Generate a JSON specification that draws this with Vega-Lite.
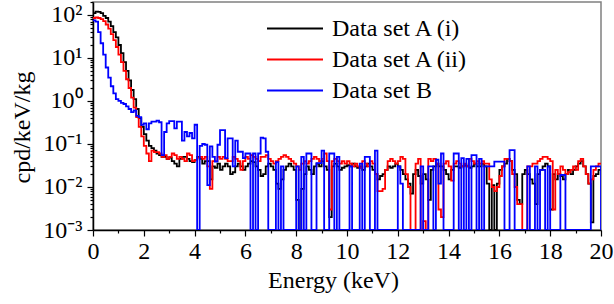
{
"$schema": "https://vega.github.io/schema/vega-lite/v6.json",
"width": 508, "height": 228,
"autosize": "none",
"padding": {"left": 93, "top": 2, "right": 13, "bottom": 74},
"background": "white",
"data": {"values": [
{"e":0,"i":110,"ii":85,"B":75},{"e":0.1,"i":120,"ii":88,"B":70},{"e":0.2,"i":118,"ii":85,"B":40},{"e":0.3,"i":110,"ii":80,"B":22},{"e":0.4,"i":95,"ii":72,"B":12},
{"e":0.5,"i":85,"ii":60,"B":6},{"e":0.6,"i":70,"ii":48,"B":3.5},{"e":0.7,"i":55,"ii":36,"B":2.2},{"e":0.8,"i":40,"ii":26,"B":1.5},{"e":0.9,"i":30,"ii":18,"B":1.1},
{"e":1,"i":20,"ii":12,"B":1.0},{"e":1.1,"i":13,"ii":8,"B":0.9},{"e":1.2,"i":8,"ii":5,"B":0.85},{"e":1.3,"i":5,"ii":3.2,"B":0.75},{"e":1.4,"i":3,"ii":2,"B":0.65},
{"e":1.5,"i":1.8,"ii":1.2,"B":0.55},{"e":1.6,"i":1.1,"ii":0.7,"B":0.6},{"e":1.7,"i":0.65,"ii":0.42,"B":0.45},{"e":1.8,"i":0.4,"ii":0.25,"B":0.42},{"e":1.9,"i":0.25,"ii":0.15,"B":0.28},
{"e":2,"i":0.17,"ii":0.09,"B":0.3},{"e":2.1,"i":0.12,"ii":0.06,"B":0.22},{"e":2.2,"i":0.09,"ii":0.04,"B":0.3},{"e":2.3,"i":0.08,"ii":0.07,"B":0.33},{"e":2.4,"i":0.07,"ii":0.065,"B":0.33},
{"e":2.5,"i":0.06,"ii":0.065,"B":0.35},{"e":2.6,"i":0.055,"ii":0.06,"B":0.32},{"e":2.7,"i":0.05,"ii":0.05,"B":0.055},{"e":2.8,"i":0.05,"ii":0.055,"B":0.19},{"e":2.9,"i":0.045,"ii":0.045,"B":0.3},
{"e":3,"i":0.048,"ii":0.05,"B":0.34},{"e":3.1,"i":0.04,"ii":0.06,"B":0.34},{"e":3.2,"i":0.035,"ii":0.055,"B":0.23},{"e":3.3,"i":0.03,"ii":0.045,"B":0.33},{"e":3.4,"i":0.045,"ii":0.05,"B":0.33},
{"e":3.5,"i":0.05,"ii":0.045,"B":0.12},{"e":3.6,"i":0.05,"ii":0.04,"B":0.19},{"e":3.7,"i":0.045,"ii":0.06,"B":0.15},{"e":3.8,"i":0.04,"ii":0.055,"B":0.18},{"e":3.9,"i":0.038,"ii":0.04,"B":0.135},
{"e":4,"i":0.042,"ii":0.042,"B":0.28},{"e":4.1,"i":0.05,"ii":0.048,"B":0.001},{"e":4.2,"i":0.045,"ii":0.05,"B":0.09},{"e":4.3,"i":0.035,"ii":0.045,"B":0.1},{"e":4.4,"i":0.04,"ii":0.05,"B":0.096},
{"e":4.5,"i":0.04,"ii":0.03,"B":0.011},{"e":4.6,"i":0.015,"ii":0.009,"B":0.088},{"e":4.7,"i":0.03,"ii":0.04,"B":0.05},{"e":4.8,"i":0.028,"ii":0.04,"B":0.039},{"e":4.9,"i":0.035,"ii":0.05,"B":0.096},
{"e":5,"i":0.025,"ii":0.045,"B":0.21},{"e":5.1,"i":0.03,"ii":0.05,"B":0.21},{"e":5.2,"i":0.035,"ii":0.045,"B":0.047},{"e":5.3,"i":0.03,"ii":0.04,"B":0.135},{"e":5.4,"i":0.02,"ii":0.04,"B":0.135},
{"e":5.5,"i":0.022,"ii":0.05,"B":0.03},{"e":5.6,"i":0.03,"ii":0.045,"B":0.12},{"e":5.7,"i":0.035,"ii":0.04,"B":0.066},{"e":5.8,"i":0.03,"ii":0.025,"B":0.066},{"e":5.9,"i":0.025,"ii":0.04,"B":0.047},
{"e":6,"i":0.03,"ii":0.05,"B":0.06},{"e":6.1,"i":0.035,"ii":0.045,"B":0.06},{"e":6.2,"i":0.04,"ii":0.055,"B":0.001},{"e":6.3,"i":0.038,"ii":0.05,"B":0.06},{"e":6.4,"i":0.03,"ii":0.045,"B":0.001},
{"e":6.5,"i":0.025,"ii":0.04,"B":0.06},{"e":6.6,"i":0.018,"ii":0.05,"B":0.14},{"e":6.7,"i":0.02,"ii":0.05,"B":0.135},{"e":6.8,"i":0.03,"ii":0.055,"B":0.066},{"e":6.9,"i":0.035,"ii":0.045,"B":0.001},
{"e":7,"i":0.03,"ii":0.04,"B":0.001},{"e":7.1,"i":0.025,"ii":0.035,"B":0.001},{"e":7.2,"i":0.012,"ii":0.04,"B":0.038},{"e":7.3,"i":0.009,"ii":0.045,"B":0.001},{"e":7.4,"i":0.015,"ii":0.05,"B":0.03},
{"e":7.5,"i":0.025,"ii":0.055,"B":0.001},{"e":7.6,"i":0.03,"ii":0.05,"B":0.001},{"e":7.7,"i":0.035,"ii":0.045,"B":0.001},{"e":7.8,"i":0.03,"ii":0.04,"B":0.001},{"e":7.9,"i":0.025,"ii":0.035,"B":0.001},
{"e":8,"i":0.005,"ii":0.03,"B":0.03},{"e":8.1,"i":0.001,"ii":0.025,"B":0.001},{"e":8.2,"i":0.009,"ii":0.035,"B":0.05},{"e":8.3,"i":0.02,"ii":0.04,"B":0.001},{"e":8.4,"i":0.03,"ii":0.035,"B":0.06},
{"e":8.5,"i":0.025,"ii":0.04,"B":0.06},{"e":8.6,"i":0.02,"ii":0.045,"B":0.001},{"e":8.7,"i":0.03,"ii":0.05,"B":0.001},{"e":8.8,"i":0.035,"ii":0.045,"B":0.036},{"e":8.9,"i":0.03,"ii":0.04,"B":0.036},
{"e":9,"i":0.04,"ii":0.045,"B":0.07},{"e":9.1,"i":0.03,"ii":0.06,"B":0.001},{"e":9.2,"i":0.025,"ii":0.04,"B":0.001},{"e":9.3,"i":0.002,"ii":0.003,"B":0.06},{"e":9.4,"i":0.03,"ii":0.04,"B":0.06},
{"e":9.5,"i":0.035,"ii":0.045,"B":0.001},{"e":9.6,"i":0.03,"ii":0.04,"B":0.05},{"e":9.7,"i":0.025,"ii":0.035,"B":0.001},{"e":9.8,"i":0.028,"ii":0.04,"B":0.001},{"e":9.9,"i":0.03,"ii":0.035,"B":0.001},
{"e":10,"i":0.032,"ii":0.04,"B":0.001},{"e":10.1,"i":0.03,"ii":0.035,"B":0.03},{"e":10.2,"i":0.035,"ii":0.03,"B":0.001},{"e":10.3,"i":0.03,"ii":0.035,"B":0.001},{"e":10.4,"i":0.028,"ii":0.03,"B":0.001},
{"e":10.5,"i":0.03,"ii":0.028,"B":0.035},{"e":10.6,"i":0.025,"ii":0.04,"B":0.001},{"e":10.7,"i":0.03,"ii":0.035,"B":0.05},{"e":10.8,"i":0.035,"ii":0.03,"B":0.05},{"e":10.9,"i":0.03,"ii":0.04,"B":0.001},
{"e":11,"i":0.025,"ii":0.035,"B":0.001},{"e":11.1,"i":0.02,"ii":0.02,"B":0.07},{"e":11.2,"i":0.015,"ii":0.008,"B":0.001},{"e":11.3,"i":0.018,"ii":0.008,"B":0.001},{"e":11.4,"i":0.02,"ii":0.009,"B":0.001},
{"e":11.5,"i":0.025,"ii":0.025,"B":0.001},{"e":11.6,"i":0.03,"ii":0.04,"B":0.001},{"e":11.7,"i":0.028,"ii":0.045,"B":0.001},{"e":11.8,"i":0.03,"ii":0.04,"B":0.001},{"e":11.9,"i":0.035,"ii":0.035,"B":0.001},
{"e":12,"i":0.03,"ii":0.04,"B":0.03},{"e":12.1,"i":0.025,"ii":0.05,"B":0.012},{"e":12.2,"i":0.02,"ii":0.045,"B":0.001},{"e":12.3,"i":0.015,"ii":0.02,"B":0.001},{"e":12.4,"i":0.012,"ii":0.01,"B":0.001},
{"e":12.5,"i":0.007,"ii":0.001,"B":0.001},{"e":12.6,"i":0.02,"ii":0.001,"B":0.001},{"e":12.7,"i":0.025,"ii":0.035,"B":0.001},{"e":12.8,"i":0.018,"ii":0.045,"B":0.001},{"e":12.9,"i":0.012,"ii":0.001,"B":0.03},
{"e":13,"i":0.02,"ii":0.0016,"B":0.001},{"e":13.1,"i":0.015,"ii":0.001,"B":0.001},{"e":13.2,"i":0.005,"ii":0.045,"B":0.03},{"e":13.3,"i":0.025,"ii":0.04,"B":0.03},{"e":13.4,"i":0.03,"ii":0.045,"B":0.001},
{"e":13.5,"i":0.035,"ii":0.035,"B":0.043},{"e":13.6,"i":0.03,"ii":0.003,"B":0.012},{"e":13.7,"i":0.03,"ii":0.002,"B":0.06},{"e":13.8,"i":0.025,"ii":0.035,"B":0.001},{"e":13.9,"i":0.02,"ii":0.04,"B":0.001},
{"e":14,"i":0.015,"ii":0.03,"B":0.001},{"e":14.1,"i":0.025,"ii":0.014,"B":0.001},{"e":14.2,"i":0.03,"ii":0.035,"B":0.06},{"e":14.3,"i":0.03,"ii":0.04,"B":0.06},{"e":14.4,"i":0.028,"ii":0.035,"B":0.001},
{"e":14.5,"i":0.03,"ii":0.03,"B":0.047},{"e":14.6,"i":0.032,"ii":0.035,"B":0.001},{"e":14.7,"i":0.03,"ii":0.03,"B":0.045},{"e":14.8,"i":0.028,"ii":0.045,"B":0.001},{"e":14.9,"i":0.03,"ii":0.04,"B":0.055},
{"e":15,"i":0.035,"ii":0.035,"B":0.055},{"e":15.1,"i":0.03,"ii":0.04,"B":0.001},{"e":15.2,"i":0.03,"ii":0.035,"B":0.045},{"e":15.3,"i":0.035,"ii":0.04,"B":0.001},{"e":15.4,"i":0.03,"ii":0.035,"B":0.03},
{"e":15.5,"i":0.012,"ii":0.035,"B":0.03},{"e":15.6,"i":0.001,"ii":0.015,"B":0.03},{"e":15.7,"i":0.011,"ii":0.01,"B":0.03},{"e":15.8,"i":0.001,"ii":0.008,"B":0.039},{"e":15.9,"i":0.012,"ii":0.01,"B":0.039},
{"e":16,"i":0.025,"ii":0.018,"B":0.039},{"e":16.1,"i":0.03,"ii":0.03,"B":0.039},{"e":16.2,"i":0.035,"ii":0.045,"B":0.001},{"e":16.3,"i":0.045,"ii":0.045,"B":0.001},{"e":16.4,"i":0.04,"ii":0.04,"B":0.072},
{"e":16.5,"i":0.025,"ii":0.02,"B":0.072},{"e":16.6,"i":0.02,"ii":0.01,"B":0.001},{"e":16.7,"i":0.005,"ii":0.004,"B":0.001},{"e":16.8,"i":0.004,"ii":0.004,"B":0.001},{"e":16.9,"i":0.02,"ii":0.001,"B":0.001},
{"e":17,"i":0.025,"ii":0.001,"B":0.001},{"e":17.1,"i":0.02,"ii":0.03,"B":0.03},{"e":17.2,"i":0.015,"ii":0.03,"B":0.001},{"e":17.3,"i":0.012,"ii":0.035,"B":0.001},{"e":17.4,"i":0.004,"ii":0.035,"B":0.03},
{"e":17.5,"i":0.02,"ii":0.04,"B":0.001},{"e":17.6,"i":0.025,"ii":0.045,"B":0.025},{"e":17.7,"i":0.03,"ii":0.05,"B":0.025},{"e":17.8,"i":0.035,"ii":0.05,"B":0.001},{"e":17.9,"i":0.03,"ii":0.045,"B":0.03},
{"e":18,"i":0.003,"ii":0.04,"B":0.001},{"e":18.1,"i":0.02,"ii":0.003,"B":0.001},{"e":18.2,"i":0.015,"ii":0.025,"B":0.001},{"e":18.3,"i":0.02,"ii":0.02,"B":0.001},{"e":18.4,"i":0.018,"ii":0.03,"B":0.019},
{"e":18.5,"i":0.015,"ii":0.025,"B":0.019},{"e":18.6,"i":0.02,"ii":0.02,"B":0.001},{"e":18.7,"i":0.025,"ii":0.022,"B":0.001},{"e":18.8,"i":0.02,"ii":0.025,"B":0.001},{"e":18.9,"i":0.025,"ii":0.03,"B":0.001},
{"e":19,"i":0.03,"ii":0.025,"B":0.001},{"e":19.1,"i":0.035,"ii":0.04,"B":0.001},{"e":19.2,"i":0.04,"ii":0.045,"B":0.001},{"e":19.3,"i":0.03,"ii":0.03,"B":0.001},{"e":19.4,"i":0.02,"ii":0.02,"B":0.001},
{"e":19.5,"i":0.012,"ii":0.012,"B":0.001},{"e":19.6,"i":0.0015,"ii":0.015,"B":0.03},{"e":19.7,"i":0.018,"ii":0.025,"B":0.03},{"e":19.8,"i":0.02,"ii":0.03,"B":0.03},{"e":19.9,"i":0.025,"ii":0.035,"B":0.03},
{"e":20,"i":0.025,"ii":0.035,"B":0.001}
]},
"transform": [{"fold": ["i", "ii", "B"], "as": ["s", "v"]}],
"mark": {"type": "line", "interpolate": "step-after", "strokeWidth": 1.8, "clip": true},
"encoding": {
  "x": {"field": "e", "type": "quantitative",
    "scale": {"domain": [0, 20], "nice": false, "zero": false},
    "axis": {"values": [0,1,2,3,4,5,6,7,8,9,10,11,12,13,14,15,16,17,18,19,20],
      "labelExpr": "datum.value % 2 == 0 ? datum.label : ''",
      "tickSize": {"condition": {"test": "datum.value % 2 == 0", "value": 6}, "value": 3},
      "labelPadding": 3, "labelOverlap": false, "labelFlush": false,
      "title": "Energy (keV)", "titleX": 240, "titleY": 57, "titleBaseline": "alphabetic", "titleAnchor": null}},
  "y": {"field": "v", "type": "quantitative",
    "scale": {"type": "log", "domain": [0.001, 200], "nice": false},
    "axis": {"values": [0.001,0.002,0.003,0.004,0.005,0.006,0.007,0.008,0.009,0.01,0.02,0.03,0.04,0.05,0.06,0.07,0.08,0.09,0.1,0.2,0.3,0.4,0.5,0.6,0.7,0.8,0.9,1,2,3,4,5,6,7,8,9,10,20,30,40,50,60,70,80,90,100,200],
      "labelExpr": "datum.value == 100 ? '10²' : datum.value == 10 ? '10¹' : datum.value == 1 ? '10⁰' : datum.value == 0.1 ? '10⁻¹' : datum.value == 0.01 ? '10⁻²' : datum.value == 0.001 ? '10⁻³' : ''",
      "tickSize": {"condition": {"test": "indexof([0.001,0.01,0.1,1,10,100], datum.value) >= 0", "value": 6}, "value": 3},
      "labelPadding": 5, "labelOverlap": false, "labelFlush": false,
      "title": "cpd/keV/kg", "titleX": -71, "titleY": 125, "titleBaseline": "middle", "titleAngle": -90, "titleAnchor": null}},
  "color": {"field": "s", "type": "nominal",
    "scale": {"domain": ["i", "ii", "B"], "range": ["#000000", "#ff0000", "#0000ff"]},
    "legend": {"orient": "none", "legendX": 173, "legendY": 11, "title": null,
      "labelExpr": "datum.label == 'i' ? 'Data set A (i)' : datum.label == 'ii' ? 'Data set A (ii)' : 'Data set B'",
      "symbolType": "stroke", "symbolSize": 3136, "symbolStrokeWidth": 2,
      "labelFont": "Liberation Serif", "labelFontSize": 24, "labelColor": "black",
      "labelOffset": 8, "clipHeight": 31, "rowPadding": 0, "padding": 0, "labelLimit": 300}}
},
"config": {
  "view": {"stroke": "#808080", "strokeWidth": 1.5},
  "axis": {"grid": false, "domainColor": "#000000", "domainWidth": 1.5, "tickColor": "#000000", "tickWidth": 1.2,
    "labelFont": "Liberation Serif", "titleFont": "Liberation Serif", "labelFontSize": 24, "titleFontSize": 24,
    "labelColor": "#000000", "titleColor": "#000000", "titleFontWeight": "normal"}
}
}
